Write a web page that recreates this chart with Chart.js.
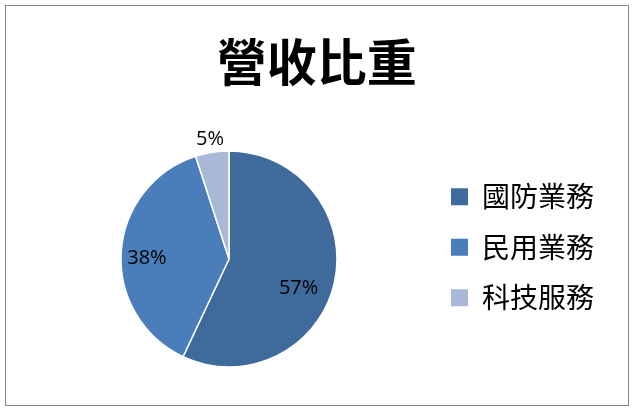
<!DOCTYPE html>
<html lang="zh-Hant">
<head>
    <meta charset="UTF-8">
    <title>營收比重</title>
    <script src="https://cdn.jsdelivr.net/npm/chart.js"></script>
    <style>
        body {
            margin: 0;
            background: #ffffff;
        }
        #frame {
            position: absolute;
            left: 5px;
            top: 5px;
            width: 624px;
            height: 401px;
            box-sizing: border-box;
            border: 1px solid #878787;
            pointer-events: none;
        }
        #revenueChart {
            position: absolute;
            left: 0;
            top: 0;
        }
    </style>
</head>
<body>

<canvas id="revenueChart" width="633" height="412"></canvas>
<div id="frame"></div>

<script>
    // Datos del gráfico
    const chartTitle = '營收比重';
    const categories = ['國防業務', '民用業務', '科技服務'];
    const shares = [57, 38, 5];
    const sliceColors = ['#3f6a9c', '#4a7ebb', '#a8b9d8'];

    const cjkFont = '"Noto Sans CJK TC", "Noto Sans CJK SC", sans-serif';

    // Etiquetas de porcentaje dibujadas sobre cada porción
    const pctLabels = {
        id: 'pctLabels',
        afterDatasetsDraw(chart, args, opts) {
            const ctx = chart.ctx;
            const arcs = chart.getDatasetMeta(0).data;
            ctx.save();
            ctx.font = opts.font;
            ctx.fillStyle = opts.color;
            ctx.textAlign = 'center';
            ctx.textBaseline = 'middle';
            arcs.forEach((arc, i) => {
                const p = arc.getProps(['x', 'y', 'startAngle', 'endAngle', 'outerRadius'], true);
                const place = opts.place[i];
                const mid = (p.startAngle + p.endAngle) / 2 + place.shift * Math.PI / 180;
                const r = p.outerRadius * place.dist;
                ctx.fillText(shares[i] + '%', p.x + Math.cos(mid) * r, p.y + Math.sin(mid) * r);
            });
            ctx.restore();
        }
    };

    const ctx = document.getElementById('revenueChart').getContext('2d');

    new Chart(ctx, {
        type: 'pie',
        data: {
            labels: categories,
            datasets: [{
                data: shares,
                backgroundColor: sliceColors,
                borderColor: '#ffffff',
                borderWidth: 1.5,
                radius: 108
            }]
        },
        options: {
            responsive: false,
            animation: false,
            layout: {
                padding: { top: 0, left: 29.5, right: 29, bottom: 44.5 }
            },
            plugins: {
                title: {
                    display: true,
                    text: chartTitle,
                    color: '#000000',
                    font: { family: cjkFont, size: 50, weight: 'bold' },
                    padding: { top: 32, bottom: 58.5 }
                },
                legend: {
                    position: 'right',
                    align: 'start',
                    fullSize: false,
                    title: {
                        display: true,
                        text: '',
                        font: { size: 1 },
                        padding: { top: 8.5, bottom: 0 }
                    },
                    labels: {
                        color: '#000000',
                        font: { family: cjkFont, size: 28 },
                        boxWidth: 17,
                        boxHeight: 17,
                        padding: 22.5,
                        generateLabels: (chart) => categories.map((name, i) => ({
                            text: name,
                            fillStyle: sliceColors[i],
                            strokeStyle: sliceColors[i],
                            fontColor: '#000000',
                            lineWidth: 0,
                            hidden: false,
                            index: i
                        }))
                    }
                },
                tooltip: { enabled: false },
                pctLabels: {
                    font: '20px "Open Sans", sans-serif',
                    color: '#000000',
                    place: [
                        { dist: 0.70, shift: 10.4 },
                        { dist: 0.76, shift: -3 },
                        { dist: 1.12, shift: 0 }
                    ]
                }
            }
        },
        plugins: [pctLabels]
    });
</script>

</body>
</html>
